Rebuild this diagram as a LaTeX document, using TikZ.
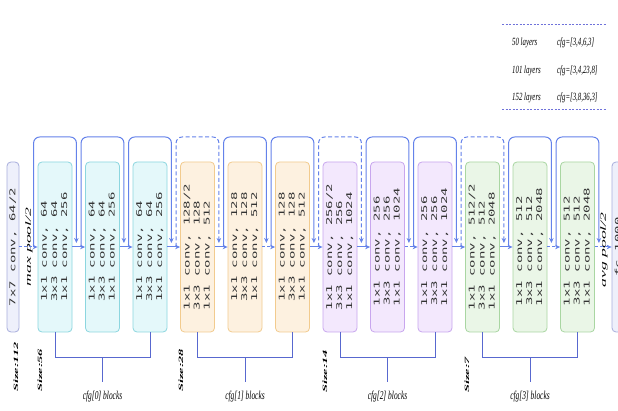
\documentclass[tikz,border=0pt]{standalone}
\usepackage{fontspec}
\setmainfont{Liberation Serif}
\newfontfamily\monof{DejaVu Sans Mono}
\usetikzlibrary{arrows.meta,calc}

\definecolor{cyanfill}{HTML}{E4F8FA}
\definecolor{cyandraw}{HTML}{8CD6DF}
\definecolor{orfill}{HTML}{FDF1E0}
\definecolor{ordraw}{HTML}{F2CB8E}
\definecolor{pufill}{HTML}{F3E8FD}
\definecolor{pudraw}{HTML}{C8A6EE}
\definecolor{grfill}{HTML}{EAF6E7}
\definecolor{grdraw}{HTML}{A9D6A2}
\definecolor{endfill}{HTML}{EEF0FB}
\definecolor{enddraw}{HTML}{A8AEDC}
\definecolor{linkblue}{HTML}{6482EA}
\definecolor{brkblue}{HTML}{5868CF}
\definecolor{txtgray}{HTML}{333333}
\definecolor{legblue}{HTML}{6F72DA}

\newcommand{\blkt}[3]{\rotatebox{90}{\scalebox{1.75}[1]{\monof\fontsize{8}{10}\selectfont\begin{tabular}{@{}l@{}}#1\\#2\\#3\end{tabular}}}}
\newcommand{\onet}[1]{\rotatebox{90}{\scalebox{1.75}[1]{\monof\fontsize{8}{10}\selectfont #1}}}
\newcommand{\sizet}[1]{\rotatebox{90}{\scalebox{2.2}[1]{\bfseries\itshape\fontsize{6.5}{7}\selectfont #1}}}
\newcommand{\poolt}[1]{\rotatebox{90}{\scalebox{2.2}[1]{\itshape\fontsize{8}{9}\selectfont #1}}}
\newcommand{\legt}[1]{\scalebox{0.62}[1]{\itshape\fontsize{11}{12}\selectfont #1}}
\newcommand{\cfgt}[1]{\scalebox{0.62}[1]{\itshape\fontsize{12}{13}\selectfont #1}}

\tikzset{
  blk/.style={rectangle, rounded corners=4pt, minimum width=34pt, minimum height=170pt,
    inner sep=0pt, line width=0.8pt, text=txtgray},
  cyanblk/.style={blk, fill=cyanfill, draw=cyandraw},
  orblk/.style={blk, fill=orfill, draw=ordraw},
  publk/.style={blk, fill=pufill, draw=pudraw},
  grblk/.style={blk, fill=grfill, draw=grdraw},
  endblk/.style={blk, minimum width=12pt, fill=endfill, draw=enddraw},
  link/.style={draw=linkblue, line width=1pt, -{Stealth[length=5pt,width=4.5pt]}},
  dlink/.style={link, dash pattern=on 3pt off 2pt},
  skiploop/.style={link, rounded corners=6pt},
  dskiploop/.style={skiploop, dash pattern=on 4pt off 2.5pt},
  brk/.style={draw=brkblue, line width=0.9pt},
  lbl/.style={inner sep=0pt, text=black},
  legline/.style={draw=legblue, line width=1pt, dash pattern=on 2pt off 1.5pt},
}

\begin{document}
\begin{tikzpicture}[x=1pt,y=-1pt]
\clip (0,0) rectangle (618,411);
\fill[white] (0,0) rectangle (618,411);

% legend
\coordinate (lg1) at (502,25);
\coordinate (lg2) at (607,25);
\coordinate (lg3) at (502,110);
\coordinate (lg4) at (607,110);
\draw[legline] (lg1) -- (lg2);
\draw[legline] (lg3) -- (lg4);
\node[lbl, anchor=west] (la1) at (512,43) {\legt{50 layers}};
\node[lbl, anchor=west] (lb1) at (557,43) {\legt{cfg=[3,4,6,3]}};
\node[lbl, anchor=west] (la2) at (512,71) {\legt{101 layers}};
\node[lbl, anchor=west] (lb2) at (557,71) {\legt{cfg=[3,4,23,8]}};
\node[lbl, anchor=west] (la3) at (512,98) {\legt{152 layers}};
\node[lbl, anchor=west] (lb3) at (557,98) {\legt{cfg=[3,8,36,3]}};

% blocks
\node[endblk] (n0) at (13,247) {\onet{7x7 conv, 64/2}};
\node[cyanblk] (b0) at (55,247) {\blkt{1x1 conv, 64}{3x3 conv, 64}{1x1 conv, 256}};
\node[cyanblk] (b1) at (102.5,247) {\blkt{1x1 conv, 64}{3x3 conv, 64}{1x1 conv, 256}};
\node[cyanblk] (b2) at (150,247) {\blkt{1x1 conv, 64}{3x3 conv, 64}{1x1 conv, 256}};
\node[orblk] (b3) at (197.5,247) {\blkt{1x1 conv, 128/2}{3x3 conv, 128}{1x1 conv, 512}};
\node[orblk] (b4) at (245,247) {\blkt{1x1 conv, 128}{3x3 conv, 128}{1x1 conv, 512}};
\node[orblk] (b5) at (292.5,247) {\blkt{1x1 conv, 128}{3x3 conv, 128}{1x1 conv, 512}};
\node[publk] (b6) at (340,247) {\blkt{1x1 conv, 256/2}{3x3 conv, 256}{1x1 conv, 1024}};
\node[publk] (b7) at (387.5,247) {\blkt{1x1 conv, 256}{3x3 conv, 256}{1x1 conv, 1024}};
\node[publk] (b8) at (435,247) {\blkt{1x1 conv, 256}{3x3 conv, 256}{1x1 conv, 1024}};
\node[grblk] (b9) at (482.5,247) {\blkt{1x1 conv, 512/2}{3x3 conv, 512}{1x1 conv, 2048}};
\node[grblk] (b10) at (530,247) {\blkt{1x1 conv, 512}{3x3 conv, 512}{1x1 conv, 2048}};
\node[grblk] (b11) at (577.5,247) {\blkt{1x1 conv, 512}{3x3 conv, 512}{1x1 conv, 2048}};
\node[endblk] (fc) at (618,247) {\onet{fc 1000}};

% pool labels
\node[lbl] (mp) at (29,247) {\poolt{max pool/2}};
\node[lbl] (ap) at (604,250) {\poolt{avg pool/2}};

% main arrows
\draw[dlink] (n0.east) -- (b0.west);
\draw[link] (b0.east) -- (b1.west);
\draw[link] (b1.east) -- (b2.west);
\draw[link] (b2.east) -- (b3.west);
\draw[link] (b3.east) -- (b4.west);
\draw[dlink] (b4.east) -- (b5.west);
\draw[link] (b5.east) -- (b6.west);
\draw[link] (b6.east) -- (b7.west);
\draw[dlink] (b7.east) -- (b8.west);
\draw[link] (b8.east) -- (b9.west);
\draw[link] (b9.east) -- (b10.west);
\draw[dlink] (b10.east) -- (b11.west);
\draw[dlink] (b11.east) -- (fc.west);

% skip connections
\foreach \b/\s in {b0/skiploop,b1/skiploop,b2/skiploop,b3/dskiploop,b4/skiploop,b5/skiploop,
                   b6/dskiploop,b7/skiploop,b8/skiploop,b9/dskiploop,b10/skiploop,b11/skiploop}{
  \draw[\s] ([xshift=-4pt]\b.west) |- ([xshift=4pt,yshift=110pt]\b.east)
            -- ([xshift=4pt,yshift=4pt]\b.east);
}

% size labels
\node[lbl, anchor=south] (s112) at (16,392) {\sizet{Size:112}};
\node[lbl, anchor=south] (s56) at (40,392) {\sizet{Size:56}};
\node[lbl, anchor=south] (s28) at (181,392) {\sizet{Size:28}};
\node[lbl, anchor=south] (s14) at (325,393) {\sizet{Size:14}};
\node[lbl, anchor=south] (s7) at (467,393) {\sizet{Size:7}};

% bracket labels
\node[lbl] (c0) at (102.5,397) {\cfgt{cfg[0] blocks}};
\node[lbl] (c1) at (245,397) {\cfgt{cfg[1] blocks}};
\node[lbl] (c2) at (387.5,397) {\cfgt{cfg[2] blocks}};
\node[lbl] (c3) at (530,397) {\cfgt{cfg[3] blocks}};

\coordinate (lvl) at (0,357);
\coordinate (lvm) at (0,382);
\foreach \a/\m/\z in {b0/b1/b2,b3/b4/b5,b6/b7/b8,b9/b10/b11}{
  \draw[brk] (\a.south) -- (\a.south |- lvl) -| (\z.south);
  \draw[brk] (\m.south |- lvl) -- (\m.south |- lvm);
}
\end{tikzpicture}
\end{document}
